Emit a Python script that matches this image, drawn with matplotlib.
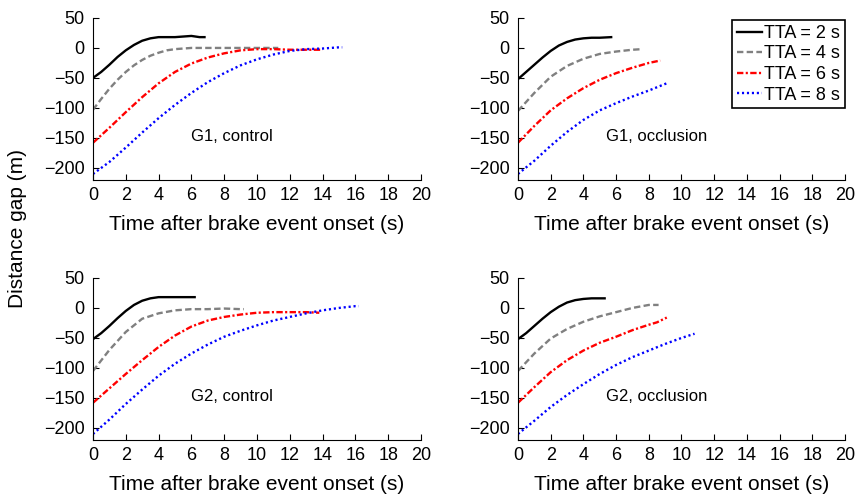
import numpy as np
import matplotlib.pyplot as plt

plt.rcParams['font.family'] = ['Liberation Sans', 'DejaVu Sans']

# time (s) / distance gap (m), per panel and TTA
tta_labels = ['TTA = 2 s', 'TTA = 4 s', 'TTA = 6 s', 'TTA = 8 s']
panel_titles = ['G1, control', 'G1, occlusion', 'G2, control', 'G2, occlusion']

# G1, control
g1c_t2 = [0, 0.5, 1, 1.5, 2, 2.5, 3, 3.5, 4, 4.5, 5, 5.5, 6, 6.5, 6.8]
g1c_y2 = [-50, -40, -28, -15, -4, 5, 12, 16, 18, 18, 18, 19, 20, 18, 18]
g1c_t4 = [0, 0.5, 1, 1.5, 2, 2.5, 3, 3.5, 4, 4.5, 5, 6, 7, 8, 9, 10, 11, 11.3]
g1c_y4 = [-103, -85, -68, -53, -40, -29, -20, -13, -8, -4, -2, 0, 0, 0, 0, 0, 0, 0]
g1c_t6 = [0, 1, 2, 3, 4, 5, 6, 7, 8, 9, 10, 11, 12, 13, 14]
g1c_y6 = [-158, -133, -107, -82, -59, -40, -26, -16, -9, -4, -2, -2, -3, -3, -3]
g1c_t8 = [0, 1, 2, 3, 4, 5, 6, 7, 8, 9, 10, 11, 12, 13, 14, 15, 15.2]
g1c_y8 = [-210, -190, -166, -141, -117, -95, -75, -57, -42, -29, -19, -11, -5, -2, -1, 1, 1]

# G1, occlusion
g1o_t2 = [0, 0.5, 1, 1.5, 2, 2.5, 3, 3.5, 4, 4.5, 5, 5.7]
g1o_y2 = [-52, -40, -28, -16, -5, 4, 10, 14, 16, 17, 17, 18]
g1o_t4 = [0, 1, 2, 3, 4, 5, 6, 7, 7.6]
g1o_y4 = [-105, -75, -48, -30, -18, -10, -6, -3, -2]
g1o_t6 = [0, 1, 2, 3, 4, 5, 6, 7, 8, 8.7]
g1o_y6 = [-158, -130, -104, -84, -67, -53, -42, -33, -25, -21]
g1o_t8 = [0, 1, 2, 3, 4, 5, 6, 7, 8, 9, 9.2]
g1o_y8 = [-210, -188, -163, -140, -120, -104, -92, -81, -71, -60, -58]

# G2, control
g2c_t2 = [0, 0.5, 1, 1.5, 2, 2.5, 3, 3.5, 4, 5, 6, 6.2]
g2c_y2 = [-52, -42, -30, -17, -5, 5, 12, 16, 18, 18, 18, 18]
g2c_t4 = [0, 1, 2, 3, 4, 5, 6, 7, 8, 9, 9.2]
g2c_y4 = [-105, -70, -40, -18, -9, -4, -2, -2, -1, -2, -2]
g2c_t6 = [0, 1, 2, 3, 4, 5, 6, 7, 8, 9, 10, 11, 12, 13, 13.8]
g2c_y6 = [-158, -134, -110, -87, -65, -46, -31, -21, -15, -11, -8, -7, -7, -7, -8]
g2c_t8 = [0, 1, 2, 3, 4, 5, 6, 7, 8, 9, 10, 11, 12, 13, 14, 15, 16, 16.2]
g2c_y8 = [-210, -186, -160, -136, -113, -93, -76, -61, -48, -38, -29, -21, -15, -9, -4, 0, 3, 3]

# G2, occlusion
g2o_t2 = [0, 0.5, 1, 1.5, 2, 2.5, 3, 3.5, 4, 4.5, 5, 5.3]
g2o_y2 = [-52, -42, -30, -18, -7, 2, 9, 13, 15, 16, 16, 16]
g2o_t4 = [0, 1, 2, 3, 4, 5, 6, 7, 8, 8.6]
g2o_y4 = [-105, -76, -51, -35, -23, -14, -7, 0, 5, 5]
g2o_t6 = [0, 1, 2, 3, 4, 5, 6, 7, 8, 8.5, 9.1]
g2o_y6 = [-158, -132, -107, -87, -71, -58, -48, -37, -28, -24, -16]
g2o_t8 = [0, 1, 2, 3, 4, 5, 6, 7, 8, 9, 10, 10.8]
g2o_y8 = [-210, -188, -165, -145, -127, -110, -95, -82, -71, -60, -50, -43]

panels = [
    [(g1c_t2, g1c_y2), (g1c_t4, g1c_y4), (g1c_t6, g1c_y6), (g1c_t8, g1c_y8)],
    [(g1o_t2, g1o_y2), (g1o_t4, g1o_y4), (g1o_t6, g1o_y6), (g1o_t8, g1o_y8)],
    [(g2c_t2, g2c_y2), (g2c_t4, g2c_y4), (g2c_t6, g2c_y6), (g2c_t8, g2c_y8)],
    [(g2o_t2, g2o_y2), (g2o_t4, g2o_y4), (g2o_t6, g2o_y6), (g2o_t8, g2o_y8)],
]

colors = ['black', '#808080', 'red', 'blue']
styles = ['-', (0, (2.7, 1.4)), (0, (2.7, 1.0, 0.9, 1.0)), (0, (0.9, 1.2))]

fig = plt.figure(figsize=(8.57, 4.98), dpi=100)
rects = [
    [0.1085, 0.6386, 0.3827, 0.3254],
    [0.6044, 0.6386, 0.3816, 0.3254],
    [0.1085, 0.1165, 0.3827, 0.3254],
    [0.6044, 0.1165, 0.3816, 0.3254],
]

for k, rect in enumerate(rects):
    ax = fig.add_axes(rect)
    for j, (t, y) in enumerate(panels[k]):
        ax.plot(t, y, color=colors[j], linestyle=styles[j], lw=1.7, label=tta_labels[j])
    ax.set_xlim(0, 20)
    ax.set_ylim(-220, 50)
    ax.set_xticks(np.arange(0, 21, 2))
    ax.set_yticks([-200, -150, -100, -50, 0, 50])
    ax.spines['top'].set_visible(False)
    ax.spines['right'].set_visible(False)
    ax.tick_params(direction='in', length=4, labelsize=13)
    ax.tick_params(axis='y', pad=6)
    ax.tick_params(axis='x', pad=5)
    ax.set_xlabel('Time after brake event onset (s)', fontsize=15, labelpad=8)
    ax.text(8.5, -148, panel_titles[k], fontsize=12, ha='center', va='center')
    if k == 1:
        leg = ax.legend(loc='upper right', bbox_to_anchor=(1.0, 0.985), fontsize=13,
                        handlelength=1.4, handletextpad=0.15, borderpad=0.25,
                        labelspacing=0.2, borderaxespad=0.0, fancybox=False,
                        edgecolor='black', framealpha=1)
        leg.get_frame().set_linewidth(1.2)

fig.text(0.021, 1 - 228 / 498, 'Distance gap (m)', rotation=90, fontsize=15,
         ha='center', va='center')

fig.savefig('out.png', dpi=100)
